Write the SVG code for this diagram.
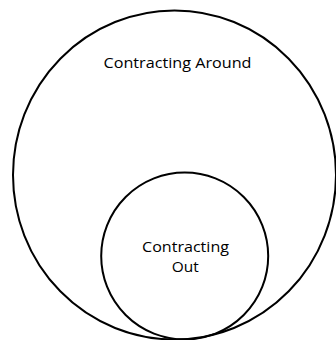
<svg xmlns="http://www.w3.org/2000/svg" width="336" height="340" viewBox="0 0 336 340">
<style>
.c{fill:none;stroke:#000;stroke-width:2}
.t{font-family:"Open Sans","Liberation Sans",sans-serif;font-size:14px;fill:#000;text-anchor:middle}
</style>
<rect width="336" height="340" fill="#fff"/>
<g id="around">
<ellipse class="c" cx="174.5" cy="175" rx="161.5" ry="164.5"/>
<text class="t" x="177.5" y="68" textLength="148" lengthAdjust="spacingAndGlyphs">Contracting Around</text>
</g>
<g id="out">
<circle class="c" cx="184.7" cy="256" r="83.5"/>
<text class="t" x="185.5" y="252" textLength="87" lengthAdjust="spacingAndGlyphs">Contracting</text>
<text class="t" x="185.3" y="272" textLength="27" lengthAdjust="spacingAndGlyphs">Out</text>
</g>
<g id="connectors"/>
</svg>
